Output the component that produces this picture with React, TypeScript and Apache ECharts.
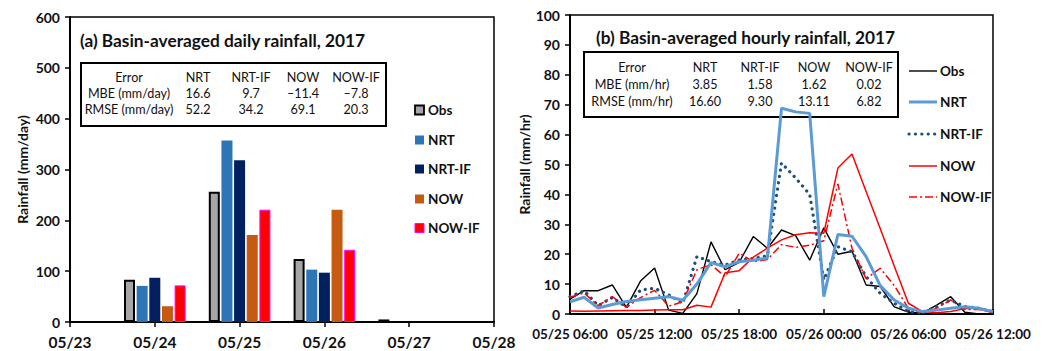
import React, { useEffect, useRef } from "react";
import * as echarts from "echarts";

// ---------- Data: (a) daily rainfall ----------
const dayLabels = ["05/23", "05/24", "05/25", "05/26", "05/27", "05/28"];
const barDayIndex = [1, 2, 3, 4];
const obsDaily = [83, 256, 124, 5];
const nrtDaily = [71, 357, 103, null];
const nrtIfDaily = [87, 318, 97, null];
const nowDaily = [31, 171, 221, null];
const nowIfDaily = [72, 221, 142, null];

// ---------- Data: (b) hourly rainfall (hours since 05/25 06:00) ----------
const hourLabels = ["05/25 06:00", "05/25 12:00", "05/25 18:00", "05/26 00:00", "05/26 06:00", "05/26 12:00"];
const obsHourly = [5.0, 7.8, 7.8, 9.7, 2.2, 11.0, 15.4, 1.3, 0.2, 6.8, 24.1, 14.8, 17.3, 25.9, 22.0, 28.1, 26.2, 18.0, 28.8, 20.0, 21.0, 9.7, 9.2, 2.4, 0.6, 0.3, 3.0, 5.8, 0.6, 0.0, 0.0];
const nrtHourly = [4.1, 5.6, 2.0, 3.2, 4.2, 4.8, 5.3, 5.8, 4.6, 10.0, 17.2, 15.8, 17.5, 18.0, 18.7, 68.8, 67.6, 67.1, 5.8, 26.6, 26.0, 19.2, 9.5, 4.7, 1.9, 0.8, 1.3, 1.9, 2.4, 1.9, 0.8];
const nrtIfHourly = [5.8, 7.8, 2.8, 5.5, 2.3, 8.0, 8.6, 6.4, 3.6, 19.2, 17.5, 16.4, 18.0, 18.6, 19.5, 50.5, 45.5, 40.0, 11.4, 22.5, 20.8, 12.5, 6.9, 3.6, 0.8, 0.3, 2.5, 4.7, 2.5, 1.9, 0.8];
const nowHourly = [1.0, 0.9, 1.0, 1.1, 1.2, 1.2, 1.3, 1.4, 1.4, 2.9, 2.3, 13.8, 14.5, 19.0, 22.0, 24.8, 26.5, 27.2, 27.0, 48.8, 53.5, 41.0, 28.6, 16.0, 3.6, 0.8, 0.4, 0.8, 1.8, 1.8, 0.3];
const nowIfHourly = [5.6, 7.0, 2.8, 5.8, 2.2, 5.5, 7.9, 2.6, 4.1, 14.8, 16.5, 12.5, 20.3, 17.5, 18.2, 23.2, 22.3, 23.0, 24.5, 43.5, 22.0, 11.8, 15.3, 9.5, 1.9, 0.3, 1.9, 4.7, 1.5, 1.5, 0.8];

// ---------- Tables ----------
const tableHeader = ["Error", "NRT", "NRT-IF", "NOW", "NOW-IF"];
const dailyMBE = ["MBE (mm/day)", "16.6", "9.7", "–11.4", "–7.8"];
const dailyRMSE = ["RMSE (mm/day)", "52.2", "34.2", "69.1", "20.3"];
const hourlyMBE = ["MBE (mm/hr)", "3.85", "1.58", "1.62", "0.02"];
const hourlyRMSE = ["RMSE (mm/hr)", "16.60", "9.30", "13.11", "6.82"];

const seriesNames = ["Obs", "NRT", "NRT-IF", "NOW", "NOW-IF"];

const FONT = "Lato";

const barStyles = [
  { color: "#A6A6A6", borderColor: "#000", borderWidth: 2 },
  { color: "#2E75B6" },
  { color: "#002060" },
  { color: "#C55A11" },
  { color: "#FF0000", borderColor: "#FF00FF", borderWidth: 1 },
];

const lineStyles = [
  { color: "#000000", width: 1.4, type: "solid" },
  { color: "#5B9BD5", width: 3, type: "solid" },
  { color: "#1F4E79", width: 3.2, type: [0.1, 6.3], cap: "round" },
  { color: "#FF0000", width: 1.5, type: "solid" },
  { color: "#FF0000", width: 1.5, type: [8, 3, 2, 3] },
];

function tableGraphics(
  box: { x: number; y: number; w: number; h: number },
  colX: number[],
  rowY: number[],
  rows: string[][]
) {
  const els: any[] = [
    {
      type: "rect",
      shape: { x: box.x, y: box.y, width: box.w, height: box.h },
      style: { fill: "#fff", stroke: "#000", lineWidth: 2 },
      z: 1,
    },
  ];
  rows.forEach((row, r) => {
    row.forEach((cell, c) => {
      els.push({
        type: "text",
        x: colX[c],
        y: rowY[r],
        z: 5,
        style: {
          text: cell,
          fontSize: 12.6,
          fontFamily: FONT,
          fill: "#111",
          align: "center",
          verticalAlign: "middle",
        },
      });
    });
  });
  return els;
}

export default function App() {
  const ref = useRef<HTMLDivElement>(null);

  useEffect(() => {
    if (!ref.current) return;
    const chart = echarts.init(ref.current, undefined, { renderer: "svg" });

    const dailySeries = [obsDaily, nrtDaily, nrtIfDaily, nowDaily, nowIfDaily];
    const hourlySeries = [obsHourly, nrtHourly, nrtIfHourly, nowHourly, nowIfHourly];

    const barSeries = dailySeries.map((vals, i) => ({
      name: seriesNames[i],
      type: "bar",
      xAxisIndex: 0,
      yAxisIndex: 0,
      barWidth: 11,
      barGap: "15%",
      itemStyle: barStyles[i],
      data: vals.map((v, k) => [barDayIndex[k], v === null ? "-" : v]),
    }));

    const lineSeries = hourlySeries.map((vals, i) => ({
      name: seriesNames[i] + " ",
      type: "line",
      xAxisIndex: 1,
      yAxisIndex: 1,
      showSymbol: false,
      symbol: "none",
      lineStyle: lineStyles[i],
      z: i === 1 ? 3 : 2,
      data: vals.map((v, k) => [k, v]),
    }));

    const axisLine = { show: true, lineStyle: { color: "#000", width: 2 } };
    const tick = { show: true, length: 5, lineStyle: { color: "#000", width: 1.5 } };
    const yLabel = { fontSize: 14, fontWeight: "bold", color: "#111", fontFamily: FONT, margin: 10 };

    const graphics: any[] = [];
    // Titles
    graphics.push({
      type: "text",
      x: 80,
      y: 40,
      z: 5,
      style: {
        text: "(a) Basin-averaged daily rainfall, 2017",
        fontSize: 17.3,
        fontWeight: "bold",
        fontFamily: FONT,
        fill: "#111",
        align: "left",
        verticalAlign: "middle",
      },
    });
    graphics.push({
      type: "text",
      x: 596,
      y: 37,
      z: 5,
      style: {
        text: "(b) Basin-averaged hourly rainfall, 2017",
        fontSize: 17.3,
        fontWeight: "bold",
        fontFamily: FONT,
        fill: "#111",
        align: "left",
        verticalAlign: "middle",
      },
    });
    // Tables
    graphics.push(
      ...tableGraphics(
        { x: 81, y: 63, w: 305, h: 63 },
        [129, 198, 251, 303, 356],
        [77, 93, 109],
        [tableHeader, dailyMBE, dailyRMSE]
      )
    );
    graphics.push(
      ...tableGraphics(
        { x: 584, y: 52, w: 314, h: 65 },
        [632, 705, 760, 814, 869],
        [67, 84, 101],
        [tableHeader, hourlyMBE, hourlyRMSE]
      )
    );
    // Left legend (bars)
    const leftLegendY = [110, 140, 169, 199, 228];
    seriesNames.forEach((n, i) => {
      const st = barStyles[i] as any;
      graphics.push({
        type: "rect",
        z: 5,
        shape: { x: 415, y: leftLegendY[i] - 4.5, width: 9, height: 9 },
        style: {
          fill: st.color,
          stroke: st.borderColor || null,
          lineWidth: st.borderWidth ? Math.min(st.borderWidth, 1.8) : 0,
        },
      });
      graphics.push({
        type: "text",
        x: 428,
        y: leftLegendY[i],
        z: 5,
        style: {
          text: n,
          fontSize: 13.5,
          fontWeight: "bold",
          fontFamily: FONT,
          fill: "#111",
          align: "left",
          verticalAlign: "middle",
        },
      });
    });
    // Right legend (lines)
    const rightLegendY = [71, 102, 134, 166, 197];
    seriesNames.forEach((n, i) => {
      const ls = lineStyles[i] as any;
      graphics.push({
        type: "line",
        z: 5,
        shape: { x1: 909, y1: rightLegendY[i], x2: 937, y2: rightLegendY[i] },
        style: {
          stroke: ls.color,
          lineWidth: ls.width,
          lineDash: Array.isArray(ls.type) ? ls.type : null,
          lineCap: ls.cap || "butt",
        },
      });
      graphics.push({
        type: "text",
        x: 940,
        y: rightLegendY[i],
        z: 5,
        style: {
          text: n,
          fontSize: 13.5,
          fontWeight: "bold",
          fontFamily: FONT,
          fill: "#111",
          align: "left",
          verticalAlign: "middle",
        },
      });
    });

    chart.setOption({
      animation: false,
      backgroundColor: "#fff",
      textStyle: { fontFamily: FONT },
      grid: [
        { left: 70, top: 17, width: 424, height: 305, show: true, borderColor: "#000", borderWidth: 1.5, backgroundColor: "transparent" },
        { left: 570, top: 15, width: 423, height: 299, show: true, borderColor: "#000", borderWidth: 1.5, backgroundColor: "transparent" },
      ],
      xAxis: [
        {
          type: "value",
          gridIndex: 0,
          min: 0,
          max: 5,
          interval: 1,
          axisLine,
          axisTick: tick,
          splitLine: { show: false },
          axisLabel: {
            fontSize: 15.5,
            fontWeight: "bold",
            color: "#111",
            fontFamily: FONT,
            margin: 12,
            formatter: (v: number) => dayLabels[Math.round(v)] ?? "",
          },
        },
        {
          type: "value",
          gridIndex: 1,
          min: 0,
          max: 30,
          interval: 6,
          axisLine,
          axisTick: { ...tick, inside: true },
          splitLine: { show: false },
          axisLabel: {
            fontSize: 13.5,
            fontWeight: "bold",
            color: "#111",
            fontFamily: FONT,
            margin: 13,
            formatter: (v: number) => hourLabels[Math.round(v / 6)] ?? "",
          },
        },
      ],
      yAxis: [
        {
          type: "value",
          gridIndex: 0,
          min: 0,
          max: 600,
          interval: 100,
          axisLine,
          axisTick: tick,
          splitLine: { show: false },
          axisLabel: yLabel,
          name: "Rainfall (mm/day)",
          nameLocation: "middle",
          nameGap: 41,
          nameTextStyle: { fontSize: 14, fontWeight: "bold", color: "#111", fontFamily: FONT },
        },
        {
          type: "value",
          gridIndex: 1,
          min: 0,
          max: 100,
          interval: 10,
          axisLine,
          axisTick: tick,
          splitLine: { show: false },
          axisLabel: yLabel,
          name: "Rainfall (mm/hr)",
          nameLocation: "middle",
          nameGap: 29,
          nameTextStyle: { fontSize: 14, fontWeight: "bold", color: "#111", fontFamily: FONT },
        },
      ],
      graphic: { elements: graphics },
      series: [...barSeries, ...lineSeries],
    });

    return () => chart.dispose();
  }, []);

  return (
    <div
      ref={ref}
      style={{ position: "fixed", left: 0, top: 0, width: 1042, height: 351, background: "#fff" }}
    />
  );
}
